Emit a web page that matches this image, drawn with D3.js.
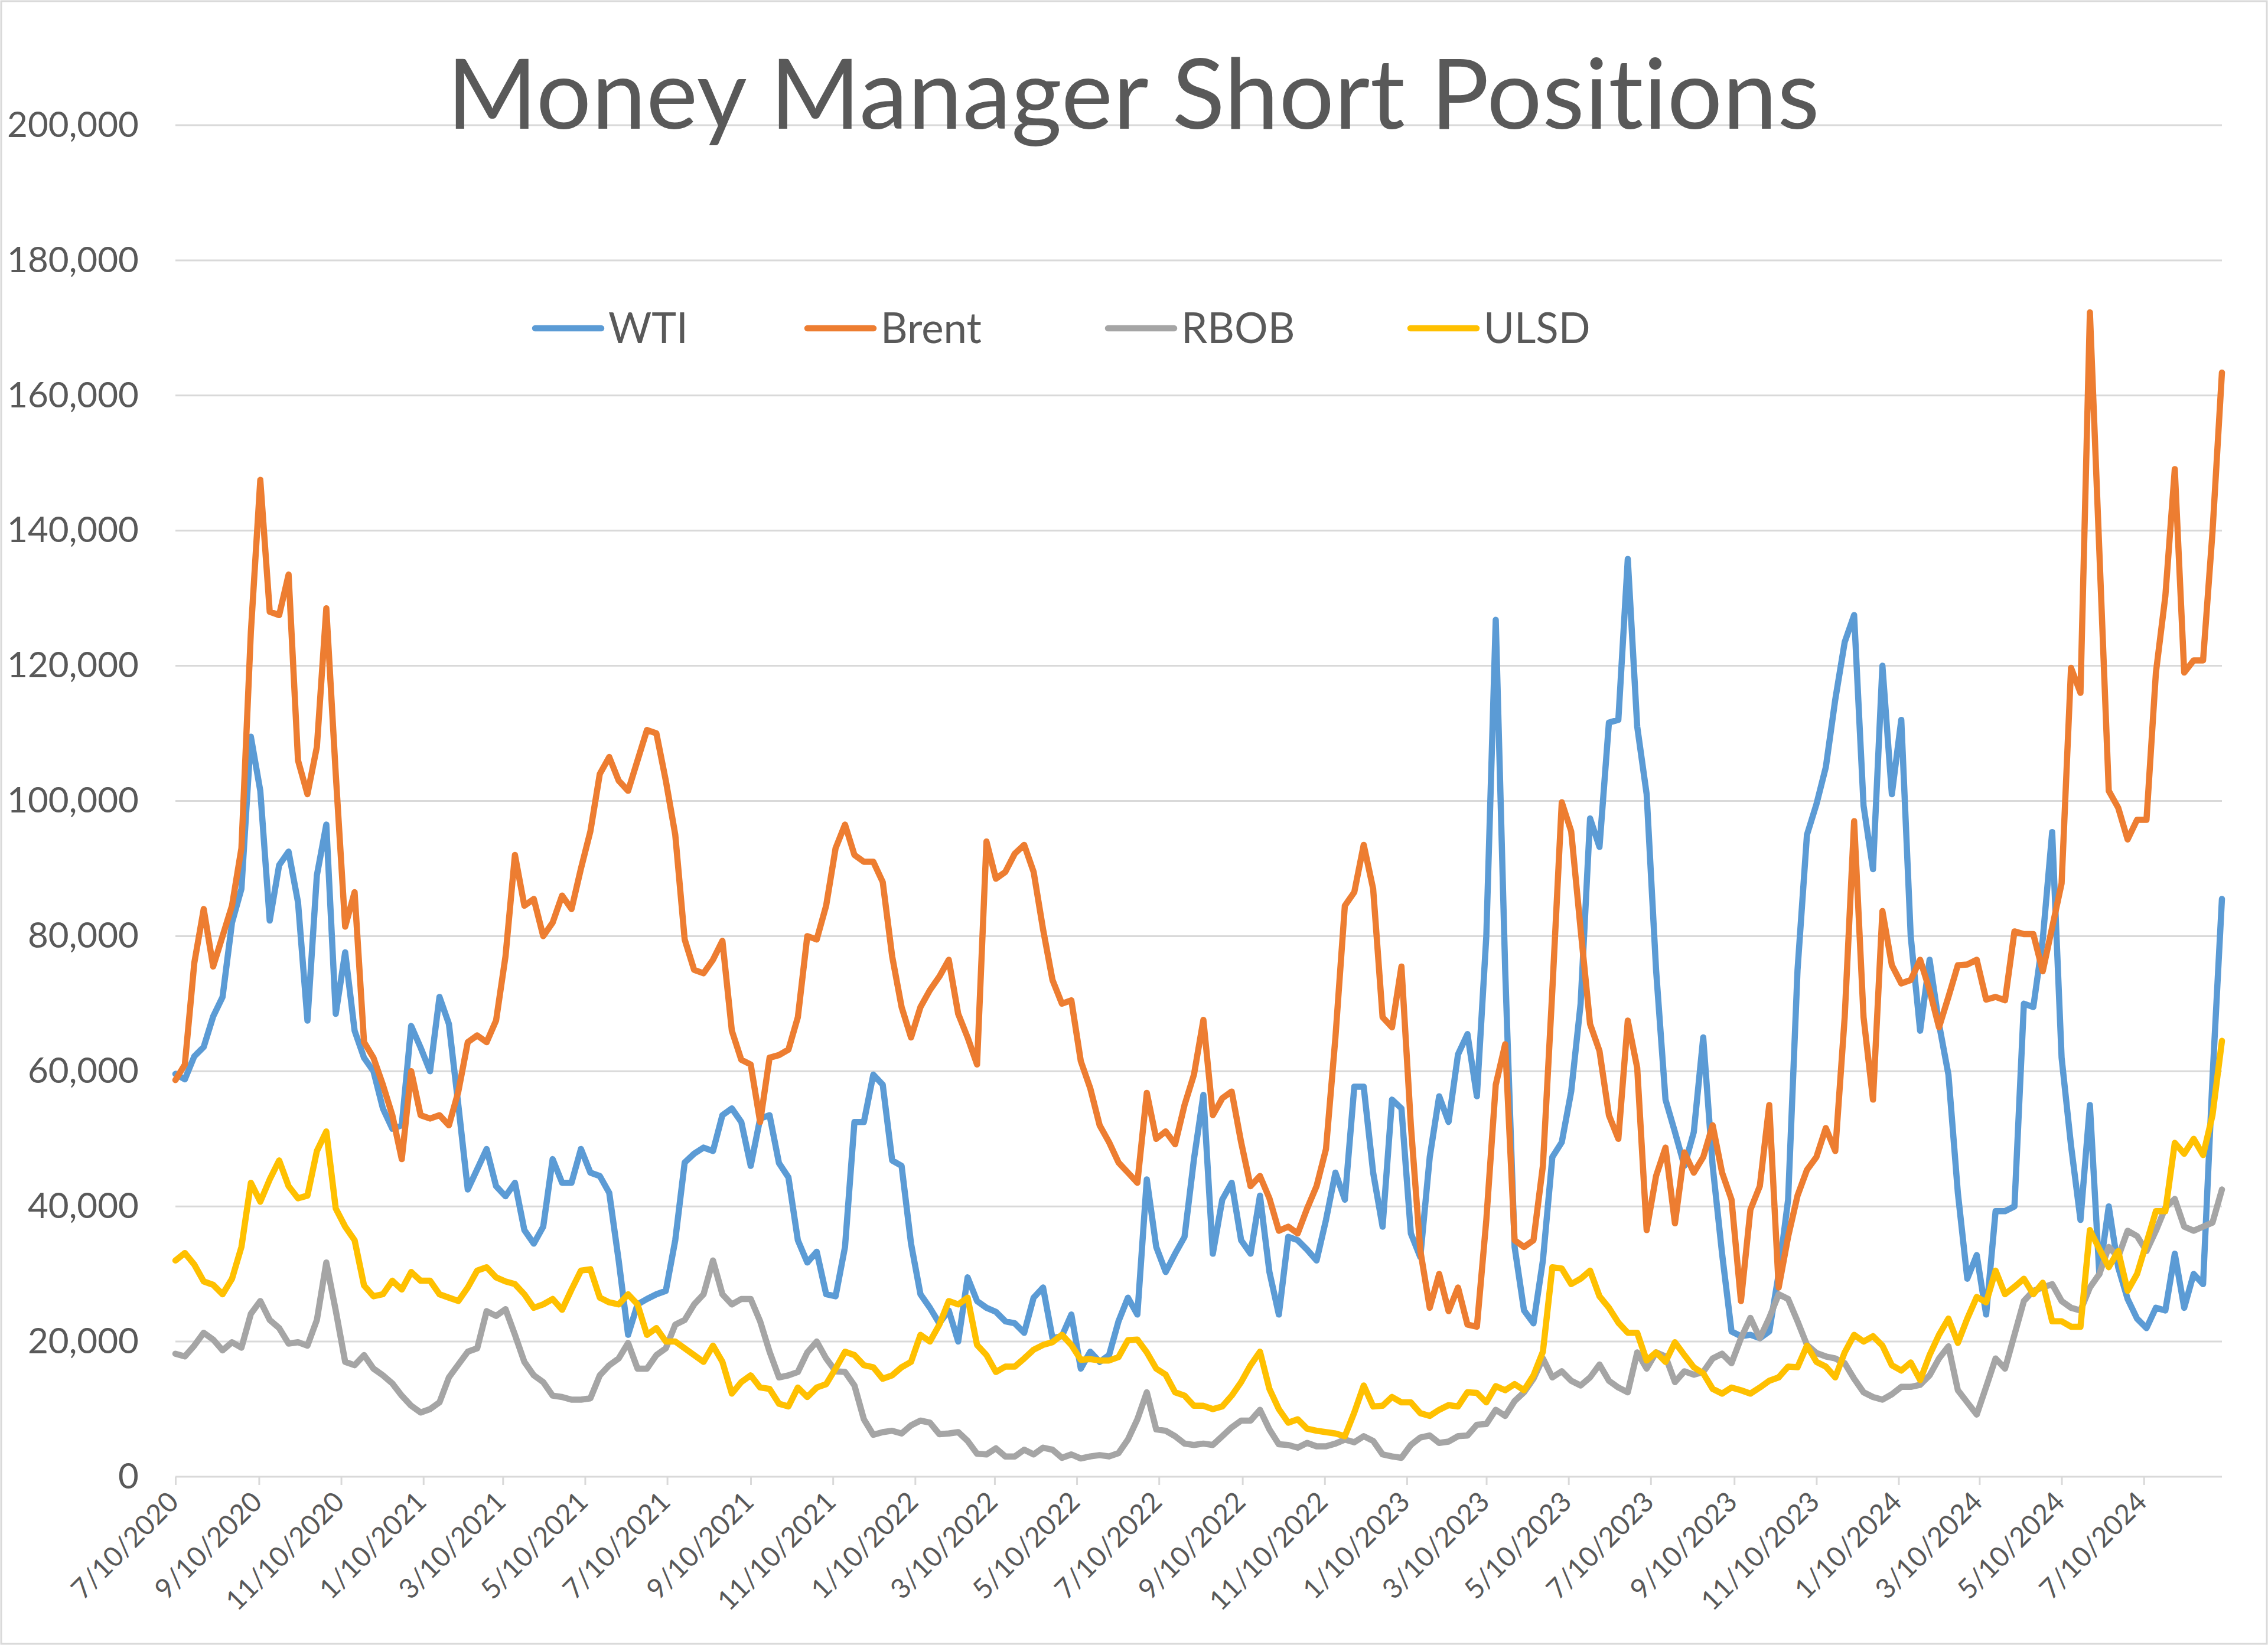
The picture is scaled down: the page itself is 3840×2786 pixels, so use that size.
<!DOCTYPE html>
<html><head><meta charset="utf-8">
<script src="https://cdn.jsdelivr.net/npm/d3@7"></script>
<style>html,body{margin:0;padding:0;background:#fff;} svg{display:block;} text{font-variant-ligatures:none;font-feature-settings:"liga" 0,"clig" 0,"dlig" 0;}</style>
</head><body>
<svg id="chart" width="3840" height="2786"></svg>
<script>
// ---------------- DATA ----------------
const chartTitle = "Money Manager Short Positions";
const seriesNames = ["WTI", "Brent", "RBOB", "ULSD"];
const seriesColors = ["#5B9BD5", "#ED7D31", "#A5A5A5", "#FFC000"];
const firstWeek = "7/10/2020";   // weekly observations start here
const xTickLabels = ["7/10/2020","9/10/2020","11/10/2020","1/10/2021","3/10/2021","5/10/2021",
  "7/10/2021","9/10/2021","11/10/2021","1/10/2022","3/10/2022","5/10/2022","7/10/2022",
  "9/10/2022","11/10/2022","1/10/2023","3/10/2023","5/10/2023","7/10/2023","9/10/2023",
  "11/10/2023","1/10/2024","3/10/2024","5/10/2024","7/10/2024"];
const yTicks = [0, 20000, 40000, 60000, 80000, 100000, 120000, 140000, 160000, 180000, 200000];

// values in thousands of contracts, one per week
const wti = [
  59.6,58.8,62.2,63.6,68.1,71,82,87,109.5,101.5,82.3,90.5,92.5,85,67.5,89,96.5,68.5,77.6,
  66,62,60,54.5,51.5,52,66.7,63.5,60,71,67,55,42.5,45.5,48.5,43,41.5,43.5,
  36.5,34.5,37,47,43.5,43.5,48.5,45,44.5,42,32,21,25.5,26.3,27,27.5,35,46.5,
  47.8,48.7,48.2,53.5,54.5,52.5,46,53,53.5,46.4,44.3,35,31.7,33.3,27,26.7,34,52.5,52.5,
  59.5,58,46.8,46,34.5,27,25,22.7,24.6,20,29.5,26,25,24.4,23,22.7,21.3,26.5,
  28,20.5,20.8,24,16,18.5,17,18,23,26.5,24,44,34,30.3,33,35.5,47,56.5,
  33,41,43.5,35,33,41.6,30.3,24,35.5,35,33.6,32,38,45,41,57.7,57.7,45,
  37,55.8,54.5,36,32.5,47.3,56.3,52.5,62.5,65.5,56.3,80,126.8,75,34,24.6,22.7,32,
  47.3,49.5,57,70,97.4,93.2,111.6,112,135.8,111,101,75,55.8,51,46,51,65,46,
  33,21.5,20.8,21,20.5,21.5,30,41,75,95,99.5,105,115,123.5,127.5,99.3,89.9,120,101,
  112,80,66,76.5,67,59.5,42,29.3,32.8,24,39.3,39.3,40,70,69.5,79.5,95.4,62,
  49,38,55,30,40,31,26.3,23.4,22,25,24.6,33,25,30,28.5,59,85.5];
const brent = [
  58.7,61,76,84,75.5,80,84.5,93,125,147.5,128,127.5,133.5,106,101,108,128.5,104,81.4,
  86.5,64.3,62,58,53.5,47,60,53.5,53,53.5,52,57,64.3,65.3,64.3,67.5,77,92,
  84.5,85.5,80,82,86,84,90,95.5,104,106.5,103,101.5,106,110.5,110,103,95,79.5,
  75,74.5,76.5,79.3,66,61.7,61,52.5,62,62.4,63.2,68,80,79.5,84.5,93,96.5,92,91,
  91,88,77,69.5,65,69.5,72,74,76.5,68.5,65,61,94,88.5,89.5,92.2,93.5,89.5,
  81,73.5,70,70.5,61.5,57.5,52,49.5,46.5,45,43.5,56.8,50,51.1,49.2,55,59.5,67.6,
  53.5,56,57,49.5,43,44.5,41.2,36.4,37,36,39.7,43,48.5,65,84.5,86.5,93.5,87,
  68,66.5,75.5,52,33.5,25,30,24.5,28,22.5,22.2,38,58,64,35,34,35,46,
  72,99.8,95.5,81,67,63,53.5,50,67.5,60.5,36.5,44.5,48.7,37.5,48,45,47.3,52,
  45,41,26,39.5,43,55,28,35.5,41.6,45.4,47.3,51.6,48.2,68,97,68,55.8,83.7,75.7,
  73,73.5,76.5,72,66.5,71,75.7,75.8,76.5,70.6,71,70.5,80.7,80.3,80.3,74.8,81.3,87.8,
  119.7,116,172.3,137,101.5,99,94.3,97.2,97.2,119,130.3,149.1,119,120.8,120.8,139.8,163.4];
const rbob = [
  18.2,17.8,19.4,21.3,20.3,18.7,19.9,19.1,24.1,26,23.2,22,19.7,19.9,19.4,23.2,31.7,24.6,17,
  16.5,18,16,15,13.8,12,10.5,9.5,10,11,14.7,16.6,18.5,19,24.5,23.8,24.8,21,
  17,15,14,12,11.8,11.4,11.4,11.6,15,16.5,17.5,19.8,16,16,18,19,22.5,23.2,
  25.5,27,32,27,25.5,26.3,26.3,23,18.5,14.7,15,15.5,18.4,20,17.5,15.6,15.5,13.5,8.5,
  6.2,6.6,6.8,6.4,7.6,8.3,8,6.3,6.4,6.6,5.3,3.4,3.3,4.2,3,3,4,3.3,
  4.3,4,2.8,3.3,2.7,3,3.2,3,3.5,5.5,8.5,12.5,7,6.8,6,4.9,4.7,4.9,
  4.7,6,7.3,8.3,8.3,9.9,7,4.8,4.7,4.3,5,4.5,4.5,4.9,5.5,5.1,6,5.3,
  3.3,3,2.8,4.7,5.8,6.1,5,5.2,6,6.1,7.7,7.8,9.9,9,11.2,12.5,14.5,17.5,
  14.7,15.6,14.2,13.5,14.7,16.6,14.2,13.2,12.5,18.4,16,18.4,17.8,14,15.6,15.1,15.5,17.5,
  18.2,16.8,20.5,23.5,20.5,23.5,27,26.3,23,19.5,18.3,17.8,17.5,16.8,14.5,12.5,11.8,11.4,12.2,
  13.3,13.3,13.6,15,17.5,19.3,12.8,11,9.2,13.3,17.5,16,21,26,27.5,28,28.5,26,
  25,24.6,28,30,34,32.5,36.4,35.6,33.4,36.4,39.8,41.1,37,36.4,37,37.6,42.5];
const ulsd = [
  32,33.1,31.4,28.9,28.4,27,29.3,34,43.5,40.7,44,46.8,43,41.2,41.6,48.2,51.1,39.7,37,
  35,28.3,26.7,27,29,27.7,30.3,29,29,27,26.5,26,28,30.5,31,29.5,28.9,28.5,
  27,25,25.5,26.3,24.7,27.7,30.5,30.7,26.5,25.8,25.5,27,25.5,21,22,20,20,19,
  18,17,19.4,17,12.3,14,15,13.2,13,10.8,10.4,13.2,11.8,13.2,13.7,16,18.5,18,16.5,
  16.2,14.5,15,16.2,17,21,20,22.5,26,25.5,26.5,19.5,18,15.5,16.3,16.3,17.5,18.8,
  19.5,19.9,21,19.5,17.3,17.4,17.2,17.2,17.7,20.2,20.3,18.4,16,15.1,12.5,12,10.5,10.5,
  10,10.4,12,14,16.5,18.5,13,10,8,8.5,7.1,6.8,6.6,6.4,6,9.5,13.5,10.4,
  10.5,11.8,11,11,9.4,9,9.9,10.6,10.4,12.5,12.4,11,13.4,12.8,13.7,12.8,15,18.5,
  31,30.8,28.5,29.3,30.5,26.7,25,22.8,21.3,21.3,17.2,18.4,17,19.9,18,16.2,15.3,13,
  12.3,13.2,12.8,12.3,13.2,14.2,14.7,16.3,16.2,19.4,17,16.3,14.7,18.4,21,20,20.8,19.4,16.5,
  15.7,16.9,14.3,18,21,23.4,19.8,23.4,26.6,25.8,30.5,27,28.1,29.3,27,28.7,23,23,
  22.2,22.2,36.5,33.7,31,33.4,27.5,30,34.6,39.3,39.3,49.4,47.8,50,47.6,53.5,64.5];

// ---------------- LAYOUT ----------------
const W = 3840, H = 2786;
const plot = {left: 297, right: 3762, top: 212, bottom: 2501};
const textColor = "#595959";
const font = "Lato, 'Open Sans', sans-serif";
const lineWidth = 10.5;

const parse = d3.timeParse("%m/%d/%Y");
const t0 = parse(firstWeek);
const allSeries = [wti, brent, rbob, ulsd];
const nWeeks = d3.max(allSeries, s => s.length);
const dates = d3.range(nWeeks).map(i => d3.timeDay.offset(t0, 7 * i));

const svg = d3.select("#chart");
svg.append("rect").attr("x", 0).attr("y", 0).attr("width", W).attr("height", H).attr("fill", "#fff");
svg.append("rect").attr("x", 2).attr("y", 2).attr("width", W - 4).attr("height", H - 4)
  .attr("fill", "none").attr("stroke", "#D9D9D9").attr("stroke-width", 3);

const x = d3.scaleTime().domain([dates[0], dates[dates.length - 1]]).range([plot.left, plot.right]);
const y = d3.scaleLinear().domain([0, 200000]).range([plot.bottom, plot.top]);

function fitSize(text, target, family, spacing) {
  const t = svg.append("text").attr("font-family", family).attr("font-size", 100)
    .attr("letter-spacing", spacing || 0).text(text);
  const w = t.node().getComputedTextLength();
  t.remove();
  return 100 * target / w;
}

// gridlines
svg.append("g").selectAll("line").data(yTicks.filter(v => v > 0)).join("line")
  .attr("x1", plot.left).attr("x2", plot.right)
  .attr("y1", d => y(d)).attr("y2", d => y(d))
  .attr("stroke", "#D9D9D9").attr("stroke-width", 3);

// y axis labels
const yFont = fitSize("200,000", 223, font);
const yAxis = d3.axisLeft(y).tickValues(yTicks).tickFormat(d3.format(",")).tickSize(0).tickPadding(62);
const gy = svg.append("g").attr("transform", `translate(${plot.left},0)`).call(yAxis);
gy.select(".domain").remove();
gy.selectAll("text").attr("font-family", font).attr("font-size", yFont).attr("fill", textColor);

// x axis
const xTicks = xTickLabels.map(parse);
const xFont = fitSize("7/10/2020", 233, font);
const xAxis = d3.axisBottom(x).tickValues(xTicks).tickFormat(d3.timeFormat("%-m/%-d/%Y")).tickSize(14).tickSizeOuter(0);
const gx = svg.append("g").attr("transform", `translate(0,${plot.bottom})`).call(xAxis);
gx.select(".domain").attr("stroke", "#D9D9D9").attr("stroke-width", 3)
  .attr("d", `M${plot.left},0H${plot.right}`);
gx.selectAll(".tick line").attr("stroke", "#D9D9D9").attr("stroke-width", 3);
gx.selectAll(".tick text")
  .attr("font-family", font).attr("font-size", xFont).attr("fill", textColor)
  .attr("text-anchor", "end").attr("x", 0).attr("y", 0).attr("dy", "0.35em")
  .attr("transform", "translate(-4,34) rotate(-45)");

// lines
const line = d3.line().x((d, i) => x(dates[i])).y(d => y(d * 1000));
svg.append("g").selectAll("path").data(allSeries).join("path")
  .attr("d", d => line(d))
  .attr("fill", "none")
  .attr("stroke", (d, i) => seriesColors[i])
  .attr("stroke-width", lineWidth)
  .attr("stroke-linejoin", "round").attr("stroke-linecap", "round");

// title (non-zero letter-spacing keeps glyphs un-ligated)
const titleFont = fitSize(chartTitle, 2334, font, 0.5);
svg.append("text").attr("x", 1919).attr("y", 218)
  .attr("text-anchor", "middle").attr("font-family", font).attr("font-size", titleFont)
  .attr("letter-spacing", 0.5)
  .attr("fill", textColor).text(chartTitle);

// legend
const legendX = [906, 1367, 1876, 2388];
const legendY = 556;
const legFont = fitSize("Brent", 171, font);
const lg = svg.append("g").selectAll("g").data(seriesNames).join("g")
  .attr("transform", (d, i) => `translate(${legendX[i]},${legendY})`);
lg.append("line").attr("x1", 0).attr("x2", 112).attr("y1", 0).attr("y2", 0)
  .attr("stroke", (d, i) => seriesColors[i]).attr("stroke-width", lineWidth).attr("stroke-linecap", "round");
lg.append("text").attr("x", 124).attr("y", 0).attr("dy", "0.36em")
  .attr("font-family", font).attr("font-size", legFont).attr("fill", textColor).text(d => d);
</script>
</body></html>
